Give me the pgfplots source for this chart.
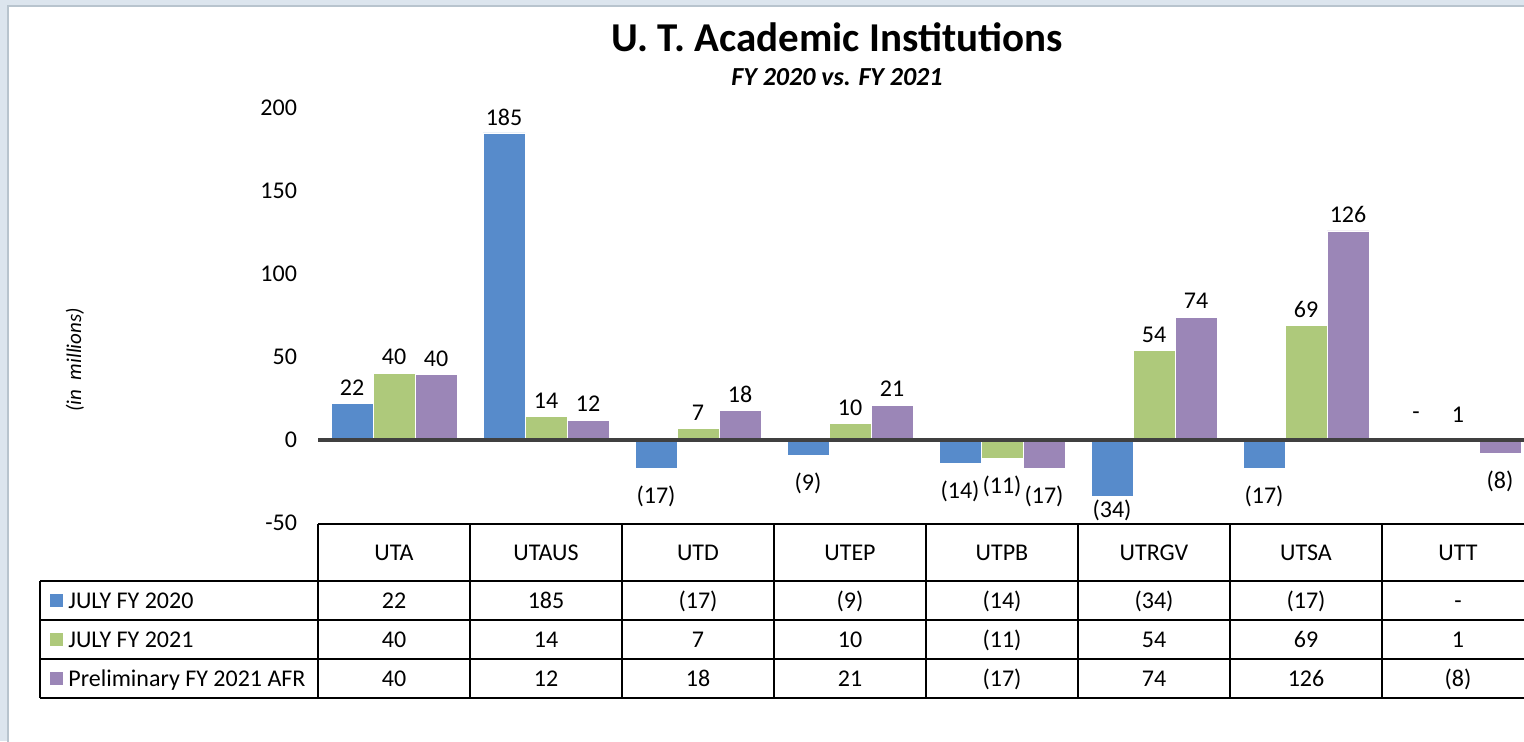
\documentclass[border=0pt]{standalone}
\usepackage{fontspec}
\setmainfont{Carlito}
\usepackage{pgfplots}
\pgfplotsset{compat=1.18}
\definecolor{cblue}{HTML}{578BCB}
\definecolor{cgreen}{HTML}{AEC97B}
\definecolor{cpurple}{HTML}{9B86B7}
\definecolor{sepgray}{HTML}{7F7F7F}
\definecolor{zerogray}{HTML}{404040}
\definecolor{bgc}{HTML}{DCE5EE}
\definecolor{framec}{HTML}{B8C4CE}
\begin{document}
\begin{tikzpicture}
\begin{scope}[x=0.5pt,y=-0.5pt]
\fill[bgc] (0,0) rectangle (1524,741);
\fill[white] (8,6) rectangle (1540,760);
\draw[framec, line width=0.6pt] (8,760) -- (8,6) -- (1540,6);
\node[font=\bfseries\fontsize{20.5}{24}\selectfont, anchor=base] at (837,51) {U. T. Academic Institutions};
\node[font=\bfseries\itshape\fontsize{13}{15}\selectfont, anchor=base] at (837,85) {FY 2020 vs. FY 2021};
\end{scope}
\begin{axis}[
  at={(159pt,-261.5pt)}, anchor=south west,
  scale only axis, width=608pt, height=207.5pt,
  xmin=-0.5, xmax=7.5, ymin=-50, ymax=200,
  xtick=\empty,
  minor xtick={-0.5,0.5,...,7.5},
  xminorgrids=true,
  minor grid style={draw=sepgray, line width=1pt},
  ytick={-50,0,50,100,150,200},
  yticklabels={-50,0,50,100,150,200},
  yticklabel style={font=\fontsize{12}{14}\selectfont, xshift=-7pt},
  major tick length=0pt, minor tick length=0pt,
  axis line style={draw=none},
  extra y ticks={0}, extra y tick labels={},
  extra y tick style={grid=major, major grid style={draw=zerogray, line width=2pt}},
  axis on top,
  ybar=0pt, bar width=21pt,
  point meta=explicit symbolic,
  nodes near coords={\pgfplotspointmeta},
  visualization depends on={rawy \as \ry},
  every node near coord/.append style={font=\fontsize{12}{14}\selectfont, text=black, anchor=center,
     yshift={(\ry>2.5)*8 + and(\ry>-0.5,\ry<2.5)*12 + and(\ry<-0.5,\ry>-25)*(-14) + (\ry<-25)*(-7)}},
  ylabel={(in\ \ millions)},
  ylabel style={at={(axis description cs:-0.2,0.393)}, anchor=center, font=\itshape\fontsize{10.5}{12}\selectfont},
]
\addplot[fill=cblue, draw=white, line width=0.3pt] coordinates {
 (0,22) [22] (1,185) [185] (2,-17) [(17)] (3,-9) [(9)] (4,-14) [(14)] (5,-34) [(34)] (6,-17) [(17)] (7,0) [-]};
\addplot[fill=cgreen, draw=white, line width=0.3pt] coordinates {
 (0,40.3) [40] (1,14) [14] (2,7) [7] (3,10) [10] (4,-11) [(11)] (5,54) [54] (6,69) [69] (7,1) [1]};
\addplot[fill=cpurple, draw=white, line width=0.3pt] coordinates {
 (0,39.5) [40] (1,12) [12] (2,18) [18] (3,21) [21] (4,-17) [(17)] (5,74) [74] (6,126) [126] (7,-8) [(8)]};
\end{axis}
\begin{scope}[x=0.5pt,y=-0.5pt]
\draw[line width=1pt] (318,524) -- (1540,524);
\foreach \yy in {581,620,659,698} \draw[line width=1pt] (40,\yy) -- (1540,\yy);
\draw[line width=1pt] (40,581) -- (40,698);
\foreach \k in {0,...,8} \draw[line width=1pt] ({318+152*\k},524) -- ({318+152*\k},698);
\foreach \n [count=\i from 0] in {UTA,UTAUS,UTD,UTEP,UTPB,UTRGV,UTSA,UTT}
  \node[anchor=base, inner sep=0pt, font=\fontsize{12}{14}\selectfont] at ({394+152*\i},560) {\n};
\foreach \n [count=\i from 0] in {22,185,(17),(9),(14),(34),(17),-}
  \node[anchor=base, inner sep=0pt, font=\fontsize{12}{14}\selectfont] at ({394+152*\i},608) {\n};
\foreach \n [count=\i from 0] in {40,14,7,10,(11),54,69,1}
  \node[anchor=base, inner sep=0pt, font=\fontsize{12}{14}\selectfont] at ({394+152*\i},647) {\n};
\foreach \n [count=\i from 0] in {40,12,18,21,(17),74,126,(8)}
  \node[anchor=base, inner sep=0pt, font=\fontsize{12}{14}\selectfont] at ({394+152*\i},686) {\n};
\fill[cblue] (50,594) rectangle (63,607);
\fill[cgreen] (50,633) rectangle (63,646);
\fill[cpurple] (50,672) rectangle (63,685);
\node[anchor=base west, inner sep=0pt, font=\fontsize{12}{14}\selectfont] at (68,608) {JULY FY 2020};
\node[anchor=base west, inner sep=0pt, font=\fontsize{12}{14}\selectfont] at (68,647) {JULY FY 2021};
\node[anchor=base west, inner sep=0pt, font=\fontsize{12}{14}\selectfont] at (68,686) {Preliminary FY 2021 AFR};
\end{scope}
\pgfresetboundingbox
\path[use as bounding box] (0,0) rectangle (762pt,-370.5pt);
\end{tikzpicture}
\end{document}
